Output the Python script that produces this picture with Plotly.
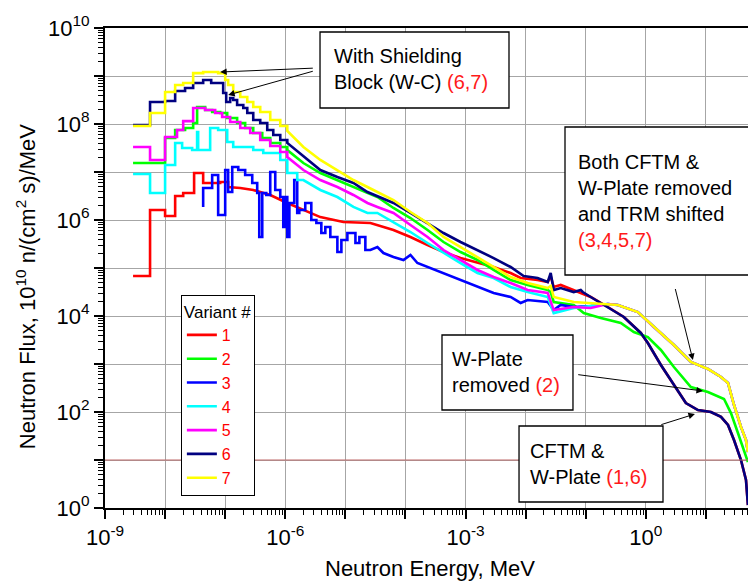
import plotly.graph_objects as go

# ---------------- data (energy in MeV, flux in 1e10 n/(cm2 s)/MeV) ----------------
# first N points of each series are histogram bins (drawn as steps), rest are points
E1 = [2.93e-9, 5.62e-9, 1.0e-8, 1.47e-8, 2.0e-8, 3.04e-8, 4.30e-8, 8.25e-8, 1.12e-7,
      1.78e-7, 2.93e-7, 5.62e-7, 1.08e-6, 2.0e-6, 3.83e-6, 9.26e-6, 1.78e-5, 2.61e-5,
      6.31e-5, 1.21e-4, 2.33e-4, 4.30e-4, 8.25e-4, 1.58e-3, 2.93e-3, 5.62e-3, 8.25e-3,
      1.58e-2, 2.33e-2, 2.61e-2, 2.93e-2, 3.83e-2, 6.31e-2, 0.121, 0.233, 0.430, 0.825]
F1 = [6.81e4, 1.61e6, 1.21e6, 3.16e6, 3.65e6, 9.53e6, 5.9e6, 6.19e6, 4.87e6,
      4.64e6, 4.22e6, 3.32e6, 2.26e6, 1.61e6, 1.15e6, 9.09e5, 8.66e5, 8.66e5,
      6.19e5, 4.43e5, 3.01e5, 2.15e5, 1.61e5, 1.27e5, 1.05e5, 7.87e4, 6.19e4,
      5.62e4, 5.11e4, 6.81e4, 4.02e4, 4.43e4, 3.48e4, 2.49e4, 1.54e4, 9.53e3, 4.43e3]
N1 = 8

E2 = [2.93e-9, 1.0e-8, 1.47e-8, 2.15e-8, 2.93e-8, 3.41e-8, 4.64e-8, 6.07e-8, 8.25e-8,
      1.08e-7, 1.58e-7, 2.15e-7, 2.93e-7, 4.14e-7, 5.62e-7, 8.25e-7,
      1.08e-6, 2.0e-6, 3.83e-6, 7.36e-6, 1.36e-5, 2.33e-5, 3.41e-5, 6.31e-5, 1.21e-4,
      2.33e-4, 4.30e-4, 8.25e-4, 1.58e-3, 2.93e-3, 5.62e-3, 1.08e-2, 2.33e-2, 2.61e-2,
      2.93e-2, 6.31e-2, 9.26e-2, 0.178, 0.383, 0.631, 1.08, 1.78, 2.93, 5.62, 10.8,
      20.0, 26.1, 34.1, 43.0, 50.0]
F2 = [1.54e7, 5.11e7, 7.5e7, 8.25e7, 1.05e8, 2.26e8, 1.96e8, 1.78e8, 1.70e8,
      1.33e8, 1.05e8, 8.25e7, 6.49e7, 5.11e7, 4.02e7, 3.32e7,
      2.87e7, 1.54e7, 9.53e6, 6.81e6, 4.87e6, 3.65e6, 3.01e6, 1.78e6, 1.10e6,
      6.19e5, 3.48e5, 2.15e5, 1.47e5, 9.09e4, 5.62e4, 4.43e4, 3.48e4, 3.16e4,
      1.96e4, 1.70e4, 1.15e4, 9.09e3, 7.15e3, 4.64e3, 3.65e3, 1.96e3, 866, 332, 261,
      187, 95, 36.5, 16.2, 9.09]
N2 = 16

E3 = [4.30e-8, 4.30e-8, 6.07e-8, 7.64e-8, 1.0e-7, 1.12e-7, 1.31e-7, 1.65e-7, 2.15e-7,
      2.82e-7, 3.41e-7, 3.69e-7, 4.14e-7, 4.82e-7, 5.62e-7, 6.81e-7, 8.25e-7, 9.26e-7,
      1.0e-6, 1.08e-6, 1.17e-6, 1.41e-6, 1.58e-6, 1.71e-6, 2.15e-6, 2.71e-6, 3.29e-6,
      3.98e-6, 4.64e-6, 5.62e-6, 7.36e-6, 8.58e-6, 1.08e-5, 1.47e-5, 1.71e-5, 2.15e-5,
      2.61e-5, 3.41e-5, 4.30e-5, 6.31e-5, 9.26e-5, 1.21e-4, 1.58e-4, 2.33e-4, 4.30e-4,
      8.25e-4, 1.58e-3, 2.93e-3, 5.62e-3, 8.25e-3, 1.08e-2, 2.33e-2, 2.93e-2, 3.83e-2,
      6.31e-2, 0.121]
F3 = [1.87e6, 4.64e6, 8.66e6, 1.27e6, 1.10e7, 3.83e6, 1.27e7, 1.10e7, 8.66e6,
      5.9e6, 3.65e6, 4.43e5, 3.65e6, 3.32e6, 1.0e7, 4.22e6, 3.01e6, 7.15e5,
      3.01e6, 4.43e5, 2.26e6, 6.81e6, 1.40e6, 1.61e6, 2.26e6, 1.0e6, 8.66e5,
      5.36e5, 7.15e5, 4.43e5, 2.15e5, 3.83e5, 5.36e5, 3.32e5, 4.43e5, 2.37e5,
      2.37e5, 2.74e5, 2.05e5, 1.70e5, 1.47e5, 1.87e5, 1.27e5, 1.05e5, 7.87e4,
      5.62e4, 4.02e4, 3.01e4, 2.49e4, 1.87e4, 2.15e4, 1.96e4, 1.33e4, 1.70e4,
      1.54e4, 1.61e4]
N3 = 36

E4 = [2.93e-9, 5.62e-9, 1.0e-8, 1.47e-8, 1.92e-8, 2.82e-8, 3.41e-8, 3.55e-8, 5.62e-8,
      7.64e-8, 1.08e-7, 1.36e-7, 2.93e-7, 4.30e-7, 8.25e-7, 1.08e-6, 1.58e-6,
      2.0e-6, 3.83e-6, 7.36e-6, 1.36e-5, 2.33e-5, 3.41e-5, 6.31e-5, 1.21e-4, 2.33e-4,
      4.30e-4, 8.25e-4, 1.58e-3, 2.93e-3, 5.62e-3, 1.08e-2, 2.33e-2, 2.93e-2, 6.31e-2,
      0.121]
F4 = [9.09e6, 3.65e6, 1.40e7, 4.02e7, 3.16e7, 2.87e7, 6.81e7, 2.87e7, 8.25e7,
      7.5e7, 4.22e7, 3.32e7, 2.87e7, 2.49e7, 1.78e7, 9.53e6, 6.81e6,
      6.81e6, 4.22e6, 3.01e6, 1.87e6, 1.40e6, 1.40e6, 9.09e5, 5.62e5, 3.32e5,
      2.05e5, 1.27e5, 7.87e4, 6.19e4, 4.02e4, 3.16e4, 2.49e4, 1.15e4, 1.47e4,
      1.61e4]
N4 = 17

E5 = [2.93e-9, 5.62e-9, 1.0e-8, 1.58e-8, 2.0e-8, 2.93e-8, 4.64e-8, 6.81e-8, 8.91e-8,
      1.21e-7, 1.78e-7, 2.61e-7, 3.83e-7, 5.62e-7, 8.25e-7,
      1.08e-6, 2.0e-6, 3.83e-6, 7.36e-6, 1.36e-5, 2.33e-5, 3.41e-5, 6.31e-5, 1.21e-4,
      2.33e-4, 4.30e-4, 8.25e-4, 1.58e-3, 2.93e-3, 5.62e-3, 1.08e-2, 2.33e-2, 2.93e-2,
      6.31e-2, 0.121]
F5 = [3.32e7, 1.78e7, 5.36e7, 7.5e7, 1.15e8, 2.15e8, 1.96e8, 1.70e8, 1.40e8,
      1.10e8, 8.25e7, 6.49e7, 4.64e7, 3.48e7, 2.61e7,
      2.05e7, 1.10e7, 6.81e6, 4.87e6, 3.32e6, 2.26e6, 1.87e6, 1.40e6, 7.87e5,
      4.43e5, 2.37e5, 1.47e5, 9.09e4, 6.49e4, 4.87e4, 3.48e4, 3.01e4, 1.33e4,
      1.54e4, 1.47e4]
N5 = 15

E6 = [2.93e-9, 5.62e-9, 1.0e-8, 1.47e-8, 2.15e-8, 2.93e-8, 4.30e-8, 5.85e-8, 9.26e-8,
      1.04e-7, 1.21e-7, 1.36e-7, 1.58e-7, 2.0e-7, 2.33e-7, 2.93e-7, 3.83e-7, 5.01e-7,
      6.31e-7, 8.25e-7,
      1.08e-6, 2.33e-6, 3.83e-6, 7.36e-6, 1.36e-5, 2.33e-5, 6.31e-5, 1.21e-4, 2.33e-4,
      4.30e-4, 8.25e-4, 1.58e-3, 2.93e-3, 5.62e-3, 9.26e-3, 1.58e-2, 2.33e-2, 2.61e-2,
      2.93e-2, 3.83e-2, 6.31e-2, 8.25e-2, 8.91e-2, 0.121, 0.233, 0.430, 0.825]
F6 = [9.53e7, 2.87e8, 3.01e8, 4.87e8, 5.62e8, 7.15e8, 8.25e8, 7.15e8, 4.43e8,
      2.87e8, 3.48e8, 3.16e8, 2.49e8, 2.15e8, 1.70e8, 1.21e8, 1.05e8, 7.5e7,
      5.9e7, 4.64e7,
      4.02e7, 1.78e7, 1.10e7, 7.87e6, 5.9e6, 3.83e6, 2.26e6, 1.40e6, 8.66e5,
      5.36e5, 3.48e5, 2.37e5, 1.61e5, 1.05e5, 6.81e4, 6.19e4, 5.11e4, 7.87e4,
      3.48e4, 3.83e4, 3.16e4, 3.48e4, 3.16e4, 2.49e4, 1.54e4, 9.53e3, 4.43e3]
N6 = 20

E7 = [2.93e-9, 5.62e-9, 1.0e-8, 1.47e-8, 2.0e-8, 2.93e-8, 4.30e-8, 7.64e-8, 1.0e-7,
      1.12e-7, 1.36e-7, 1.78e-7, 2.33e-7, 2.93e-7, 3.83e-7, 5.62e-7, 8.25e-7,
      1.08e-6, 2.0e-6, 3.83e-6, 7.36e-6, 1.36e-5, 2.33e-5, 6.31e-5, 1.21e-4, 2.33e-4,
      4.30e-4, 8.25e-4, 1.58e-3, 2.93e-3, 5.62e-3, 1.08e-2, 2.33e-2, 2.61e-2, 2.93e-2,
      6.31e-2, 0.121]
F7 = [9.1e7, 1.70e8, 4.64e8, 6.49e8, 7.15e8, 1.15e9, 1.21e9, 1.15e9, 8.25e8,
      6.49e8, 4.64e8, 3.65e8, 2.87e8, 2.26e8, 1.78e8, 1.21e8, 9.1e7,
      7.15e7, 3.32e7, 1.78e7, 1.10e7, 6.81e6, 4.87e6, 2.61e6, 1.47e6, 8.66e5,
      4.43e5, 2.74e5, 1.70e5, 1.05e5, 6.49e4, 4.87e4, 3.83e4, 4.22e4, 2.49e4,
      1.96e4, 1.87e4]
N7 = 17

# shared fast-neutron tails
E_tail_16 = [1.08, 1.78, 2.93, 4.64, 7.36, 12.1, 17.8, 23.3, 29.3, 38.3, 46.4, 50.0]
F_tail_16 = [2.74e3, 953, 365, 154, 110, 100, 79, 53.6, 26.1, 10, 3.83, 1.15]
E_tail_3457 = [0.233, 0.341, 0.736, 1.36, 2.93, 5.62, 10.8, 17.8, 23.3, 29.3, 38.3, 46.4, 50.0]
F_tail_3457 = [1.78e4, 1.70e4, 1.21e4, 5.9e3, 2.49e3, 1.10e3, 787, 536, 402, 140, 49, 26.1, 14.7]

variant_names = ["1", "2", "3", "4", "5", "6", "7"]
colors = ["#ff0000", "#00ff00", "#0000ff", "#00ffff", "#ff00ff", "#000080", "#ffff00"]


def build(E, F, nstep, tailE=(), tailF=()):
    xs, ys = [], []
    for i in range(len(E)):
        xs.append(E[i]); ys.append(F[i])
        if i < nstep:
            xs.append(E[i + 1]); ys.append(F[i])
    xs += list(tailE); ys += list(tailF)
    return xs, ys


series = [
    build(E1, F1, N1, E_tail_16, F_tail_16),
    build(E2, F2, N2),
    build(E3, F3, N3, E_tail_3457, F_tail_3457),
    build(E4, F4, N4, E_tail_3457, F_tail_3457),
    build(E5, F5, N5, E_tail_3457, F_tail_3457),
    build(E6, F6, N6, E_tail_16, F_tail_16),
    build(E7, F7, N7, E_tail_3457, F_tail_3457),
]

fig = go.Figure()
for name, col, (xs, ys) in zip(variant_names, colors, series):
    fig.add_trace(go.Scatter(x=xs, y=ys, mode="lines", name=name,
                             line=dict(color=col, width=2.6)))

FONT = "Liberation Sans, Arial, sans-serif"
GRID = "#a6a6a6"

xdec = list(range(-9, 2))
ydec = list(range(0, 11))
xticktext = [f"10<sup>{d}</sup>" if d % 3 == 0 else " " for d in xdec]
yticktext = [f"10<sup>{d}</sup>" if d % 2 == 0 else " " for d in ydec]
xminor = [k * 10.0 ** d for d in range(-9, 2) for k in range(2, 10)]
yminor = [k * 10.0 ** d for d in range(0, 10) for k in range(2, 10)]

fig.update_layout(
    width=748, height=584,
    margin=dict(l=105, r=0, t=28, b=76),
    paper_bgcolor="white", plot_bgcolor="white",
    font=dict(family=FONT, size=22, color="black"),
    showlegend=True,
    legend=dict(
        x=0.118, y=0.444, xanchor="left", yanchor="top",
        bgcolor="white", bordercolor="black", borderwidth=1,
        font=dict(family=FONT, size=16, color="#ff0000"),
        title=dict(text="Variant #", font=dict(family=FONT, size=17, color="black")),
        tracegroupgap=0,
    ),
    xaxis=dict(
        type="log", range=[-9, 1.7],
        tickmode="array", tickvals=[10.0 ** d for d in xdec], ticktext=xticktext,
        ticks="outside", ticklen=9, tickwidth=1.5, tickcolor="black",
        showgrid=True, gridcolor=GRID, gridwidth=1.3,
        showline=True, linecolor="black", linewidth=2, mirror=True,
        zeroline=False,
        tickfont=dict(family=FONT, size=22),
        minor=dict(tickvals=xminor, ticks="outside", ticklen=5, tickwidth=1.3,
                   tickcolor="black", showgrid=False),
    ),
    yaxis=dict(
        type="log", range=[0, 10],
        tickmode="array", tickvals=[10.0 ** d for d in ydec], ticktext=yticktext,
        ticks="outside", ticklen=9, tickwidth=1.5, tickcolor="black",
        showgrid=True, gridcolor=GRID, gridwidth=1.3,
        showline=True, linecolor="black", linewidth=2,
        zeroline=False,
        tickfont=dict(family=FONT, size=22),
        minor=dict(tickvals=yminor, ticks="outside", ticklen=5, tickwidth=1.3,
                   tickcolor="black", showgrid=False),
    ),
)

# red reference line at 10
fig.add_shape(type="line", xref="paper", yref="paper", x0=0, x1=1, y0=0.1, y1=0.1,
              line=dict(color="#c06a6a", width=1.2))

# text boxes
boxes = [
    (0.3344, 0.6283, 0.8333, 0.9917),
    (0.7154, 1.05, 0.4854, 0.7938),
    (0.5241, 0.7278, 0.2042, 0.3604),
    (0.6439, 0.8678, 0.0125, 0.1708),
]
for x0, x1, y0, y1 in boxes:
    fig.add_shape(type="rect", xref="paper", yref="paper", x0=x0, x1=x1, y0=y0, y1=y1,
                  line=dict(color="black", width=1.3), fillcolor="white", layer="above")

RED = "<span style='color:#ff1a1a'>%s</span>"
texts = [
    (0.3530, 0.9156, "With Shielding<br>Block (W-C) " + RED % "(6,7)"),
    (0.7325, 0.6396, "Both CFTM &amp;<br>W-Plate removed<br>and TRM shifted<br>" + RED % "(3,4,5,7)"),
    (0.5365, 0.2833, "W-Plate<br>removed " + RED % "(2)"),
    (0.6579, 0.0927, "CFTM &amp;<br>W-Plate " + RED % "(1,6)"),
]
for x, y, t in texts:
    fig.add_annotation(x=x, y=y, xref="paper", yref="paper", text=t, showarrow=False,
                       xanchor="left", yanchor="middle", align="left",
                       font=dict(family=FONT, size=20, color="black"))

# arrows (positions in log10 axis units)
arrows = [
    ((-7.083, 9.083), (-5.467, 9.167)),
    ((-6.95, 8.604), (-5.467, 9.125)),
    ((0.783, 3.083), (0.433, 4.854)),
    ((0.95, 2.4375), (-1.2, 2.79)),
    ((0.817, 1.958), (0.183, 1.708)),
]
for (hx, hy), (tx, ty) in arrows:
    fig.add_annotation(x=hx, y=hy, ax=tx, ay=ty, xref="x", yref="y", axref="x", ayref="y",
                       text=" ", showarrow=True, arrowhead=2, arrowsize=1.3, arrowwidth=1,
                       arrowcolor="black")

# axis titles
fig.add_annotation(x=0.5054, y=-0.1270, xref="paper", yref="paper", showarrow=False,
                   text="Neutron Energy, MeV", xanchor="center", yanchor="middle",
                   font=dict(family=FONT, size=22, color="black"))
fig.add_annotation(x=-0.1229, y=0.462, xref="paper", yref="paper", showarrow=False,
                   text="Neutron Flux, 10<sup>10</sup> n/(cm<sup>2</sup> s)/MeV",
                   textangle=-90, xanchor="center", yanchor="middle",
                   font=dict(family=FONT, size=22, color="black"))

fig.write_html("out.html", config={"displayModeBar": False},
               post_script="document.body.style.margin='0px';document.body.style.overflow='hidden';")
